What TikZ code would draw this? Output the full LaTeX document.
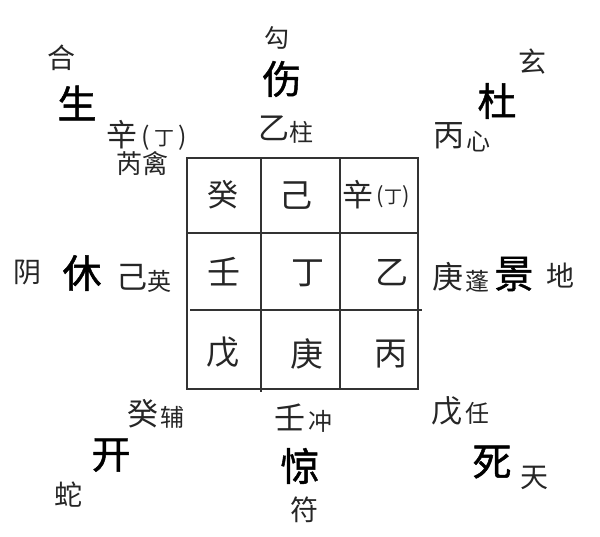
\documentclass[tikz,border=0pt]{standalone}
\usepackage{fontspec}
\setmainfont{Noto Sans CJK SC}
\newfontfamily\doorfont[FakeBold=1.2]{Noto Sans CJK SC}
\newcommand{\fz}[1]{\fontsize{#1pt}{#1pt}\selectfont}
\begin{document}
\begin{tikzpicture}[x=1pt,y=-1pt,
  every node/.style={inner sep=0pt,outer sep=0pt,anchor=center,text=black!85},
  door/.style={font=\doorfont\fz{39},text=black},
  deity/.style={font=\fz{28}},
  stem/.style={font=\fz{31}},
  star/.style={font=\fz{24}},
  cell/.style={font=\fz{33}},
  grid/.style={line width=1.5pt,black!80}]
\useasboundingbox[fill=white] (0,0) rectangle (600,537);
% grid
\coordinate (g1) at (187,158);
\coordinate (g2) at (418,389);
\draw[grid] (g1) rectangle (g2);
\draw[grid] (261,158) coordinate (v1t) -- (261,392) coordinate (v1b);
\draw[grid] (340,158) coordinate (v2t) -- (340,389) coordinate (v2b);
\draw[grid] (187,233) coordinate (h1l) -- (418,233) coordinate (h1r);
\draw[grid] (190,310) coordinate (h2l) -- (422,310) coordinate (h2r);
% cells
\node[cell,font=\fz{31}] (c11) at (223,195) {癸};
\node[cell] (c12) at (296,196) {己};
\node[cell,font=\fz{31}] (c13) at (358,195) {辛};
\node[font=\fz{18}] (c13b) at (393,197) {{\fz{22}(}丁{\fz{22})}};
\node[cell] (c21) at (224,272) {壬};
\node[cell] (c22) at (308,273) {丁};
\node[cell] (c23) at (392,273) {乙};
\node[cell] (c31) at (223,352) {戊};
\node[cell] (c32) at (307,354) {庚};
\node[cell] (c33) at (391,354) {丙};
% doors
\node[door] (sheng) at (77,103) {生};
\node[door] (shang) at (282,79) {伤};
\node[door] (du) at (497,101) {杜};
\node[door] (xiu) at (82,273) {休};
\node[door] (jing) at (514,274) {景};
\node[door] (kai) at (111,455) {开};
\node[door] (jingb) at (300,466) {惊};
\node[door] (si) at (492,462) {死};
% deities
\node[deity] (he) at (61,58) {合};
\node[deity,font=\fz{25}] (gou) at (277,38) {勾};
\node[deity] (xuan) at (532,62) {玄};
\node[deity] (yin) at (27,272) {阴};
\node[deity] (di) at (560,276) {地};
\node[deity] (she) at (68,495) {蛇};
\node[deity] (fu) at (304,510) {符};
\node[deity] (tian) at (534,478) {天};
% outer stems and stars
\node[stem] (s1) at (122,135) {辛};
\node[font=\fz{20}] (s1b) at (164,138) {{\fz{25}(}\hspace{4pt}丁\hspace{4pt}{\fz{25})}};
\node[star,font=\fz{26}] (x1) at (142,164) {芮禽};
\node[stem] (s2) at (274,128) {乙};
\node[star] (x2) at (301,132) {柱};
\node[stem] (s3) at (449,136) {丙};
\node[star] (x3) at (478,142) {心};
\node[stem] (s4) at (132,277) {己};
\node[star] (x4) at (159,281) {英};
\node[stem] (s6) at (448,277) {庚};
\node[star] (x6) at (477,281) {蓬};
\node[stem] (s7) at (143,414) {癸};
\node[star] (x7) at (172,417) {辅};
\node[stem] (s8) at (290,417) {壬};
\node[star] (x8) at (320,421) {冲};
\node[stem] (s9) at (447,411) {戊};
\node[star] (x9) at (477,413) {任};
\end{tikzpicture}
\end{document}
